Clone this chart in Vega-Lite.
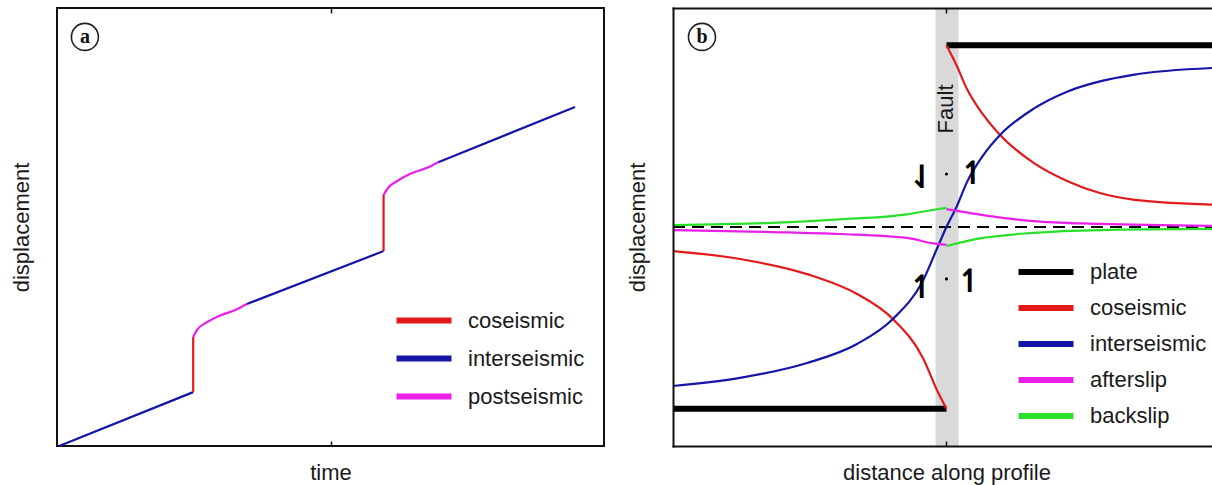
{
  "$schema": "https://vega.github.io/schema/vega-lite/v6.json",
  "padding": {"left": 9, "top": 6, "right": 0, "bottom": 0},
  "spacing": 69,
  "bounds": "flush",
  "resolve": {"scale": {"color": "independent"}, "legend": {"color": "independent"}},
  "datasets": {
    "a_lines": [
      {"seg": "i1", "type": "interseismic", "t": 0.4, "d": 0, "i": 0},
      {"seg": "i1", "type": "interseismic", "t": 24.9, "d": 12.3, "i": 1},
      {"seg": "c1", "type": "coseismic", "t": 24.9, "d": 12.3, "i": 0},
      {"seg": "c1", "type": "coseismic", "t": 24.9, "d": 24.9, "i": 1},
      {"seg": "p1", "type": "postseismic", "t": 24.9, "d": 24.9, "i": 0},
      {"seg": "p1", "type": "postseismic", "t": 25.6, "d": 26.5, "i": 1},
      {"seg": "p1", "type": "postseismic", "t": 27.2, "d": 28.1, "i": 2},
      {"seg": "p1", "type": "postseismic", "t": 29.6, "d": 29.7, "i": 3},
      {"seg": "p1", "type": "postseismic", "t": 32.7, "d": 31.1, "i": 4},
      {"seg": "p1", "type": "postseismic", "t": 34.7, "d": 32.4, "i": 5},
      {"seg": "i2", "type": "interseismic", "t": 34.7, "d": 32.4, "i": 0},
      {"seg": "i2", "type": "interseismic", "t": 59.7, "d": 44.5, "i": 1},
      {"seg": "c2", "type": "coseismic", "t": 59.7, "d": 44.5, "i": 0},
      {"seg": "c2", "type": "coseismic", "t": 59.7, "d": 57.3, "i": 1},
      {"seg": "p2", "type": "postseismic", "t": 59.7, "d": 57.3, "i": 0},
      {"seg": "p2", "type": "postseismic", "t": 60.5, "d": 58.9, "i": 1},
      {"seg": "p2", "type": "postseismic", "t": 62.2, "d": 60.5, "i": 2},
      {"seg": "p2", "type": "postseismic", "t": 64.5, "d": 62.1, "i": 3},
      {"seg": "p2", "type": "postseismic", "t": 67.6, "d": 63.5, "i": 4},
      {"seg": "p2", "type": "postseismic", "t": 69.7, "d": 64.8, "i": 5},
      {"seg": "i3", "type": "interseismic", "t": 69.7, "d": 64.8, "i": 0},
      {"seg": "i3", "type": "interseismic", "t": 94.7, "d": 77.4, "i": 1}
    ],
    "b_plate": [
      {"seg": "L", "type": "plate", "x": -100, "y": -83},
      {"seg": "L", "type": "plate", "x": 0, "y": -83},
      {"seg": "R", "type": "plate", "x": 0, "y": 83},
      {"seg": "R", "type": "plate", "x": 97.1, "y": 83}
    ],
    "b_curves": [
      {"seg": "cL", "type": "coseismic", "x": -100, "y": -11.0},
      {"seg": "cL", "type": "coseismic", "x": -75.5, "y": -14.6},
      {"seg": "cL", "type": "coseismic", "x": -51.0, "y": -21.5},
      {"seg": "cL", "type": "coseismic", "x": -32.7, "y": -30.6},
      {"seg": "cL", "type": "coseismic", "x": -19.6, "y": -42.0},
      {"seg": "cL", "type": "coseismic", "x": -8.6, "y": -59.8},
      {"seg": "cL", "type": "coseismic", "x": -3.1, "y": -75.5},
      {"seg": "cL", "type": "coseismic", "x": 0, "y": -83},
      {"seg": "cR", "type": "coseismic", "x": 0, "y": 83},
      {"seg": "cR", "type": "coseismic", "x": 3.8, "y": 73.5},
      {"seg": "cR", "type": "coseismic", "x": 7.5, "y": 63.0},
      {"seg": "cR", "type": "coseismic", "x": 13.3, "y": 51.5},
      {"seg": "cR", "type": "coseismic", "x": 19.6, "y": 42.0},
      {"seg": "cR", "type": "coseismic", "x": 31.6, "y": 29.5},
      {"seg": "cR", "type": "coseismic", "x": 44.1, "y": 21.0},
      {"seg": "cR", "type": "coseismic", "x": 56.1, "y": 15.5},
      {"seg": "cR", "type": "coseismic", "x": 68.2, "y": 12.5},
      {"seg": "cR", "type": "coseismic", "x": 97.1, "y": 10.2},
      {"seg": "iA", "type": "interseismic", "x": -100, "y": -72.6},
      {"seg": "iA", "type": "interseismic", "x": -75.5, "y": -68.9},
      {"seg": "iA", "type": "interseismic", "x": -51.0, "y": -62.1},
      {"seg": "iA", "type": "interseismic", "x": -32.7, "y": -53.4},
      {"seg": "iA", "type": "interseismic", "x": -19.6, "y": -42.0},
      {"seg": "iA", "type": "interseismic", "x": -8.6, "y": -24.5},
      {"seg": "iA", "type": "interseismic", "x": -3.1, "y": -8.8},
      {"seg": "iA", "type": "interseismic", "x": 0, "y": 0},
      {"seg": "iA", "type": "interseismic", "x": 3.8, "y": 9.5},
      {"seg": "iA", "type": "interseismic", "x": 7.5, "y": 20.5},
      {"seg": "iA", "type": "interseismic", "x": 13.3, "y": 32.5},
      {"seg": "iA", "type": "interseismic", "x": 19.6, "y": 42.0},
      {"seg": "iA", "type": "interseismic", "x": 31.6, "y": 53.8},
      {"seg": "iA", "type": "interseismic", "x": 44.1, "y": 61.8},
      {"seg": "iA", "type": "interseismic", "x": 56.1, "y": 66.5},
      {"seg": "iA", "type": "interseismic", "x": 68.2, "y": 69.5},
      {"seg": "iA", "type": "interseismic", "x": 97.1, "y": 72.6},
      {"seg": "aL", "type": "afterslip", "x": -100, "y": -1.4},
      {"seg": "aL", "type": "afterslip", "x": -63.5, "y": -2.3},
      {"seg": "aL", "type": "afterslip", "x": -39.0, "y": -3.2},
      {"seg": "aL", "type": "afterslip", "x": -14.4, "y": -5.0},
      {"seg": "aL", "type": "afterslip", "x": -4.9, "y": -7.5},
      {"seg": "aL", "type": "afterslip", "x": 0, "y": -8.2},
      {"seg": "aR", "type": "afterslip", "x": 0, "y": 8.2},
      {"seg": "aR", "type": "afterslip", "x": 15.9, "y": 5.0},
      {"seg": "aR", "type": "afterslip", "x": 31.6, "y": 2.7},
      {"seg": "aR", "type": "afterslip", "x": 56.1, "y": 1.4},
      {"seg": "aR", "type": "afterslip", "x": 97.1, "y": 0.5},
      {"seg": "gL", "type": "backslip", "x": -100, "y": 0.9},
      {"seg": "gL", "type": "backslip", "x": -63.5, "y": 1.9},
      {"seg": "gL", "type": "backslip", "x": -39.0, "y": 3.5},
      {"seg": "gL", "type": "backslip", "x": -14.4, "y": 5.8},
      {"seg": "gL", "type": "backslip", "x": -3.5, "y": 8.1},
      {"seg": "gL", "type": "backslip", "x": 0, "y": 8.7},
      {"seg": "gR", "type": "backslip", "x": 0, "y": -8.7},
      {"seg": "gR", "type": "backslip", "x": 13.3, "y": -5.0},
      {"seg": "gR", "type": "backslip", "x": 31.6, "y": -2.7},
      {"seg": "gR", "type": "backslip", "x": 56.1, "y": -1.4},
      {"seg": "gR", "type": "backslip", "x": 97.1, "y": -0.9}
    ]
  },
  "hconcat": [
    {
      "width": 547,
      "height": 438,
      "layer": [
        {
          "data": {"name": "a_lines"},
          "transform": [{"filter": "datum.type !== 'postseismic'"}],
          "mark": {"type": "line", "strokeWidth": 2.2},
          "encoding": {
            "x": {"field": "t", "type": "quantitative", "scale": {"domain": [0, 100], "nice": false, "zero": false},
              "axis": {"orient": "bottom", "title": "time", "values": [50], "ticks": true, "tickSize": -5, "titlePadding": 16}},
            "y": {"field": "d", "type": "quantitative", "scale": {"domain": [0, 100], "nice": false, "zero": false},
              "axis": {"orient": "left", "title": "displacement", "titlePadding": 24}},
            "color": {"field": "type", "type": "nominal",
              "scale": {"domain": ["coseismic", "interseismic", "postseismic"], "range": ["#e31a1c", "#1515a8", "#e820e8"]},
              "legend": {"orient": "none", "legendX": 350, "legendY": 295.5, "title": null, "symbolType": "M-2,0H2", "symbolSize": 756, "symbolStrokeWidth": 6, "labelFontSize": 22, "labelFont": "Liberation Sans", "labelColor": "#1a1a1a", "labelOffset": 27, "rowPadding": 9, "padding": 0, "labelLimit": 300}},
            "detail": {"field": "seg"},
            "order": {"field": "i"}
          }
        },
        {
          "data": {"name": "a_lines"},
          "transform": [{"filter": "datum.type === 'postseismic'"}],
          "mark": {"type": "line", "strokeWidth": 2.2, "interpolate": "monotone"},
          "encoding": {
            "x": {"field": "t", "type": "quantitative", "scale": {"domain": [0, 100], "nice": false, "zero": false}, "axis": null},
            "y": {"field": "d", "type": "quantitative", "scale": {"domain": [0, 100], "nice": false, "zero": false}, "axis": null},
            "color": {"field": "type", "type": "nominal"},
            "detail": {"field": "seg"},
            "order": {"field": "i"}
          }
        },
        {
          "data": {"values": [{"t": 5.1, "d": 93.4, "lab": "a"}]},
          "mark": {"type": "point", "shape": "circle", "filled": false, "stroke": "#222", "strokeWidth": 1.6, "size": 729, "opacity": 1},
          "encoding": {
            "x": {"field": "t", "type": "quantitative", "scale": {"domain": [0, 100], "nice": false, "zero": false},
              "axis": {"orient": "top", "title": null, "values": [50], "ticks": true, "tickSize": -5}},
            "y": {"field": "d", "type": "quantitative", "scale": {"domain": [0, 100], "nice": false, "zero": false}, "axis": null}
          }
        },
        {
          "data": {"values": [{"t": 5.1, "d": 93.4, "lab": "a"}]},
          "mark": {"type": "text", "font": "Liberation Serif", "fontWeight": "bold", "fontSize": 20, "align": "center", "baseline": "middle", "color": "#111"},
          "encoding": {
            "x": {"field": "t", "type": "quantitative", "scale": {"domain": [0, 100], "nice": false, "zero": false}, "axis": null},
            "y": {"field": "d", "type": "quantitative", "scale": {"domain": [0, 100], "nice": false, "zero": false}, "axis": null},
            "text": {"field": "lab"}
          }
        }
      ],
      "resolve": {"axis": {"x": "independent", "y": "independent"}}
    },
    {
      "width": 539,
      "height": 438,
      "view": {"stroke": null},
      "layer": [
        {
          "data": {"values": [{"x": -4, "x2": 4.4}]},
          "mark": {"type": "rect", "color": "#d9d9d9"},
          "encoding": {
            "x": {"field": "x", "type": "quantitative", "scale": {"domain": [-100, 97.1], "nice": false, "zero": false},
              "axis": {"orient": "bottom", "title": "distance along profile", "domain": true, "domainCap": "square", "values": [0], "ticks": true, "tickSize": -5, "titlePadding": 16, "titleX": 273.5, "zindex": 1}},
            "x2": {"field": "x2"}
          }
        },
        {
          "data": {"values": [{"x": -100, "y": 0}, {"x": 97.1, "y": 0}]},
          "mark": {"type": "line", "color": "#000", "strokeDash": [12, 7], "strokeWidth": 2},
          "encoding": {
            "x": {"field": "x", "type": "quantitative", "scale": {"domain": [-100, 97.1], "nice": false, "zero": false}, "axis": null},
            "y": {"field": "y", "type": "quantitative", "scale": {"domain": [-100, 100], "nice": false, "zero": false},
              "axis": {"orient": "left", "title": "displacement", "domain": true, "domainCap": "square", "titlePadding": 24, "zindex": 1}}
          }
        },
        {
          "data": {"name": "b_plate"},
          "mark": {"type": "line", "strokeWidth": 6},
          "encoding": {
            "x": {"field": "x", "type": "quantitative", "scale": {"domain": [-100, 97.1], "nice": false, "zero": false}, "axis": null},
            "y": {"field": "y", "type": "quantitative", "scale": {"domain": [-100, 100], "nice": false, "zero": false}, "axis": null},
            "color": {"field": "type", "type": "nominal",
              "scale": {"domain": ["plate", "coseismic", "interseismic", "afterslip", "backslip"], "range": ["#000000", "#e31a1c", "#1515a8", "#e820e8", "#28e028"]},
              "legend": {"orient": "none", "legendX": 356, "legendY": 247, "title": null, "symbolType": "M-2,0H2", "symbolSize": 756, "symbolStrokeWidth": 6, "labelFontSize": 22, "labelFont": "Liberation Sans", "labelColor": "#1a1a1a", "labelOffset": 27, "rowPadding": 7, "padding": 0, "labelLimit": 300}},
            "detail": {"field": "seg"}
          }
        },
        {
          "data": {"name": "b_curves"},
          "mark": {"type": "line", "strokeWidth": 2.2, "interpolate": "monotone"},
          "encoding": {
            "x": {"field": "x", "type": "quantitative", "scale": {"domain": [-100, 97.1], "nice": false, "zero": false}, "axis": null},
            "y": {"field": "y", "type": "quantitative", "scale": {"domain": [-100, 100], "nice": false, "zero": false}, "axis": null},
            "color": {"field": "type", "type": "nominal"},
            "detail": {"field": "seg"}
          }
        },
        {
          "data": {"values": [{"x": 0, "y": 24.2}, {"x": 0, "y": -23.7}]},
          "mark": {"type": "point", "filled": true, "color": "#000", "size": 10, "opacity": 1},
          "encoding": {
            "x": {"field": "x", "type": "quantitative", "scale": {"domain": [-100, 97.1], "nice": false, "zero": false}, "axis": null},
            "y": {"field": "y", "type": "quantitative", "scale": {"domain": [-100, 100], "nice": false, "zero": false}, "axis": null}
          }
        },
        {
          "data": {"values": [
            {"x": -9.0, "y": 22.4, "g": "⇃"},
            {"x": 9.7, "y": 24.2, "g": "↿"},
            {"x": -9.0, "y": -27.9, "g": "↿"},
            {"x": 8.6, "y": -25.1, "g": "↿"}
          ]},
          "mark": {"type": "text", "font": "DejaVu Sans", "fontWeight": "bold", "fontSize": 32, "align": "center", "baseline": "middle", "color": "#000"},
          "encoding": {
            "x": {"field": "x", "type": "quantitative", "scale": {"domain": [-100, 97.1], "nice": false, "zero": false}, "axis": null},
            "y": {"field": "y", "type": "quantitative", "scale": {"domain": [-100, 100], "nice": false, "zero": false}, "axis": null},
            "text": {"field": "g"}
          }
        },
        {
          "data": {"values": [{"x": -0.3, "y": 53.9, "txt": "Fault"}]},
          "mark": {"type": "text", "font": "Liberation Sans", "fontSize": 22, "angle": 270, "align": "center", "baseline": "middle", "color": "#1a1a1a"},
          "encoding": {
            "x": {"field": "x", "type": "quantitative", "scale": {"domain": [-100, 97.1], "nice": false, "zero": false}, "axis": null},
            "y": {"field": "y", "type": "quantitative", "scale": {"domain": [-100, 100], "nice": false, "zero": false}, "axis": null},
            "text": {"field": "txt"}
          }
        },
        {
          "data": {"values": [{"x": -89.4, "y": 86.8, "lab": "b"}]},
          "mark": {"type": "point", "shape": "circle", "filled": false, "stroke": "#222", "strokeWidth": 1.6, "size": 729, "opacity": 1},
          "encoding": {
            "x": {"field": "x", "type": "quantitative", "scale": {"domain": [-100, 97.1], "nice": false, "zero": false},
              "axis": {"orient": "top", "title": null, "domain": true, "domainCap": "square", "values": [0], "ticks": true, "tickSize": -5, "zindex": 1}},
            "y": {"field": "y", "type": "quantitative", "scale": {"domain": [-100, 100], "nice": false, "zero": false}, "axis": null}
          }
        },
        {
          "data": {"values": [{"x": -89.4, "y": 86.8, "lab": "b"}]},
          "mark": {"type": "text", "font": "Liberation Serif", "fontWeight": "bold", "fontSize": 20, "align": "center", "baseline": "middle", "color": "#111"},
          "encoding": {
            "x": {"field": "x", "type": "quantitative", "scale": {"domain": [-100, 97.1], "nice": false, "zero": false}, "axis": null},
            "y": {"field": "y", "type": "quantitative", "scale": {"domain": [-100, 100], "nice": false, "zero": false}, "axis": null},
            "text": {"field": "lab"}
          }
        }
      ],
      "resolve": {"axis": {"x": "independent", "y": "independent"}}
    }
  ],
  "config": {
    "font": "Liberation Sans",
    "view": {"stroke": "#111", "strokeWidth": 2},
    "axis": {"labels": false, "ticks": false, "domain": false, "grid": false, "titleFont": "Liberation Sans", "titleFontSize": 22, "titleFontWeight": "normal", "titleColor": "#1a1a1a", "tickColor": "#111", "tickWidth": 1.5, "domainColor": "#111", "domainWidth": 2}
  }
}
